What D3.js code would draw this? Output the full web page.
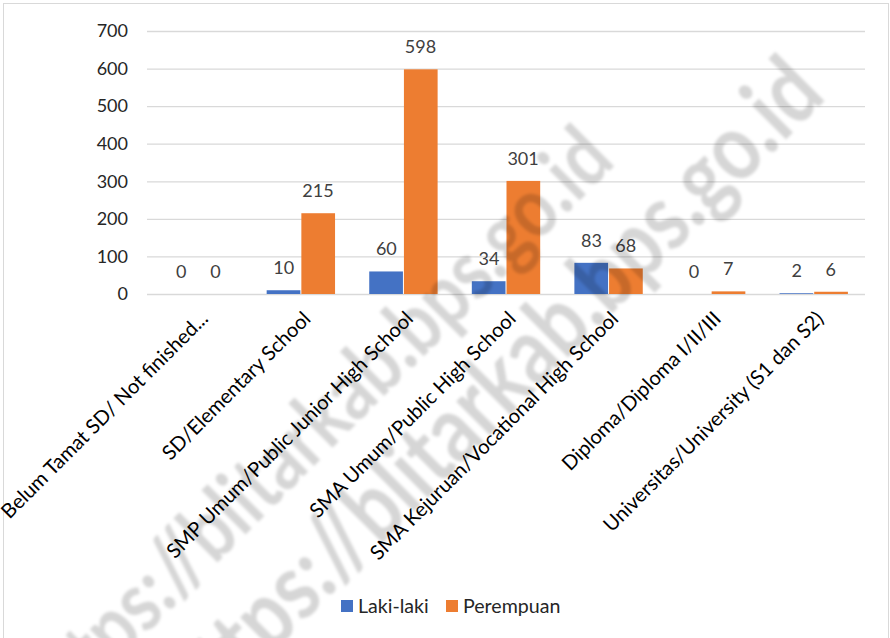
<!DOCTYPE html>
<html><head><meta charset="utf-8">
<script src="https://cdn.jsdelivr.net/npm/d3@7"></script>
<style>
html,body{margin:0;padding:0;background:#fff;}
svg{display:block;}
</style></head>
<body>
<svg id="chart" width="890" height="638"></svg>
<script>
const categories = [
  "Belum Tamat SD/ Not finished...",
  "SD/Elementary School",
  "SMP Umum/Public Junior High School",
  "SMA Umum/Public High School",
  "SMA Kejuruan/Vocational High School",
  "Diploma/Diploma I/II/III",
  "Universitas/University (S1 dan S2)"
];
const seriesNames = ["Laki-laki", "Perempuan"];
const lakiLaki = [0, 10, 60, 34, 83, 0, 2];
const perempuan = [0, 215, 598, 301, 68, 7, 6];
const yTicks = [0, 100, 200, 300, 400, 500, 600, 700];
const colors = ["#4472C4", "#ED7D31"];
const watermark = "https://blitarkab.bps.go.id";

const svg = d3.select("#chart");
const font = "Lato, 'Open Sans', sans-serif";

// outer border
svg.append("rect").attr("x", 3.5).attr("y", 3.5).attr("width", 885).attr("height", 640)
  .attr("fill", "#fff").attr("stroke", "#d9d9d9").attr("stroke-width", 1);

const y = d3.scaleLinear().domain([0, 700]).range([294, 31]);
const x0 = d3.scaleBand().domain(categories).range([147, 865]).paddingInner(1/3).paddingOuter(1/6);
const x1 = d3.scaleBand().domain(seriesNames).range([0, x0.bandwidth()]);

// gridlines
const yAxis = d3.axisLeft(y).tickValues(yTicks).tickSize(-(865 - 147)).tickPadding(19);
const gy = svg.append("g").attr("transform", "translate(147,0)").call(yAxis);
gy.select(".domain").remove();
gy.selectAll(".tick line").attr("stroke", "#d9d9d9").attr("stroke-width", 1.3);
gy.selectAll(".tick text").attr("font-family", font).attr("font-size", 18).attr("fill", "#262626");

// x axis labels
const xAxis = d3.axisBottom(x0).tickSize(0).tickPadding(0);
const gx = svg.append("g").attr("transform", "translate(0,294)").call(xAxis);
gx.select(".domain").remove();
gx.selectAll(".tick text")
  .attr("font-family", font).attr("font-size", 20.2).attr("fill", "#000")
  .attr("text-anchor", "end").attr("dy", null).attr("y", null)
  .attr("transform", "translate(11,26) rotate(-45)");

const data = categories.map((c, i) => ({cat: c, values: [lakiLaki[i], perempuan[i]]}));

const groups = svg.append("g").selectAll("g").data(data).join("g")
  .attr("transform", d => `translate(${x0(d.cat)},0)`);

groups.selectAll("rect").data(d => d.values.map((v, j) => ({v, s: seriesNames[j], j})))
  .join("rect")
  .attr("x", d => x1(d.s) + (d.j === 1 ? 0.5 : 0))
  .attr("width", x1.bandwidth() - 0.5)
  .attr("y", d => y(d.v))
  .attr("height", d => y(0) - y(d.v))
  .attr("fill", d => colors[d.j]);

groups.selectAll("text").data(d => d.values.map((v, j) => ({v, s: seriesNames[j], j})))
  .join("text")
  .attr("x", d => x1(d.s) + x1.bandwidth() / 2)
  .attr("y", d => y(d.v) - 16)
  .attr("text-anchor", "middle")
  .attr("font-family", font).attr("font-size", 18).attr("fill", "#404040")
  .text(d => d.v);

// legend
const legend = svg.append("g");
const legX = [341, 446];
seriesNames.forEach((s, i) => {
  legend.append("rect").attr("x", legX[i]).attr("y", 600).attr("width", 12).attr("height", 12).attr("fill", colors[i]);
  legend.append("text").attr("x", legX[i] + 17).attr("y", 613)
    .attr("font-family", font).attr("font-size", 19.6).attr("fill", "#262626").text(s);
});

// watermark
const defs = svg.append("defs");
defs.append("filter").attr("id", "blur").append("feGaussianBlur").attr("stdDeviation", 1.8);
const wm = [{x: 594, y: 140, a: -45, s: 70}, {x: 802, y: 72, a: -45, s: 78}];
svg.append("g").attr("filter", "url(#blur)").selectAll("text").data(wm).join("text")
  .attr("transform", d => `translate(${d.x},${d.y}) rotate(${d.a}) scale(1,1.2)`)
  .attr("text-anchor", "end").attr("dominant-baseline", "central")
  .attr("font-family", "Lato, sans-serif").attr("font-weight", "bold").attr("font-size", d => d.s)
  .attr("fill", "#000").attr("fill-opacity", 0.16)
  .text(watermark);
</script>
</body></html>
